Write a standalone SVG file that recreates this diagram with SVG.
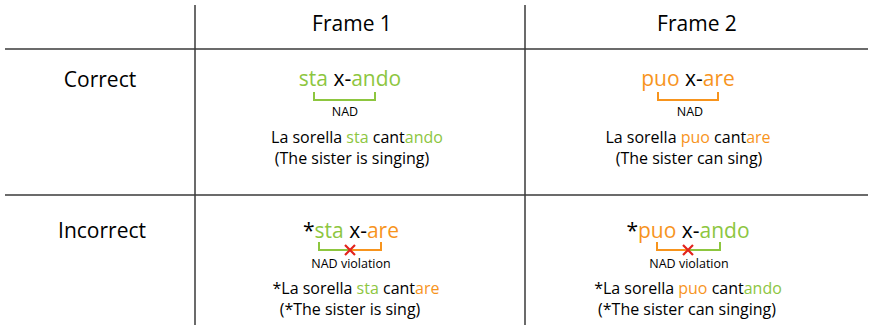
<svg xmlns="http://www.w3.org/2000/svg" width="870" height="325" viewBox="0 0 870 325">
<style>
text{font-family:"Open Sans","Noto Sans","Liberation Sans",sans-serif;fill:#000;text-anchor:middle}
.h{font-size:21px}
.m{font-size:21px}
.s{font-size:16px}
.n{font-size:12.5px}
.g{fill:#8DC63F}
.o{fill:#F7941D}
.rule{stroke:#3a3a3a;stroke-width:1.5;fill:none}
.bg{stroke:#8DC63F;stroke-width:2;fill:none}
.bo{stroke:#F7941D;stroke-width:2;fill:none}
.x{stroke:#E3231C;stroke-width:2.2;fill:none}
</style>
<rect width="870" height="325" fill="#fff"/>
<g id="connectors">
<line class="rule" x1="5" y1="49" x2="868" y2="49"/>
<line class="rule" x1="5" y1="195" x2="868" y2="195"/>
<line class="rule" x1="195" y1="5" x2="195" y2="325"/>
<line class="rule" x1="525" y1="5" x2="525" y2="325"/>
</g>
<g id="header-frame1"><text class="h" x="352" y="31">Frame 1</text></g>
<g id="header-frame2"><text class="h" x="697" y="31">Frame 2</text></g>
<g id="row-correct"><text class="h" x="100" y="87">Correct</text></g>
<g id="row-incorrect"><text class="h" x="102" y="238">Incorrect</text></g>
<g id="cell-f1-correct">
<text class="m" x="350" y="86"><tspan class="g">sta</tspan> x-<tspan class="g">ando</tspan></text>
<path class="bg" d="M314,92 V100 H375 V92"/>
<text class="n" x="345" y="116">NAD</text>
<text class="s" x="357" y="143">La sorella <tspan class="g">sta</tspan> cant<tspan class="g">ando</tspan></text>
<text class="s" x="352" y="164">(The sister is singing)</text>
</g>
<g id="cell-f2-correct">
<text class="m" x="688" y="86"><tspan class="o">puo</tspan> x-<tspan class="o">are</tspan></text>
<path class="bo" d="M658,92 V100 H718 V92"/>
<text class="n" x="690" y="116">NAD</text>
<text class="s" x="688" y="143">La sorella <tspan class="o">puo</tspan> cant<tspan class="o">are</tspan></text>
<text class="s" x="689" y="164">(The sister can sing)</text>
</g>
<g id="cell-f1-incorrect">
<text class="m" x="351" y="238">*<tspan class="g">sta</tspan> x-<tspan class="o">are</tspan></text>
<path class="bg" d="M319,242 V250 H350"/>
<path class="bo" d="M350,250 H381 V242"/>
<path class="x" d="M345,245 L355,255 M355,245 L345,255"/>
<text class="n" x="351" y="268">NAD violation</text>
<text class="s" x="356" y="294">*La sorella <tspan class="g">sta</tspan> cant<tspan class="o">are</tspan></text>
<text class="s" x="350" y="315">(*The sister is sing)</text>
</g>
<g id="cell-f2-incorrect">
<text class="m" x="688" y="238">*<tspan class="o">puo</tspan> x-<tspan class="g">ando</tspan></text>
<path class="bo" d="M657,242 V250 H688"/>
<path class="bg" d="M688,250 H720 V242"/>
<path class="x" d="M683,245 L693,255 M693,245 L683,255"/>
<text class="n" x="689" y="268">NAD violation</text>
<text class="s" x="688" y="294">*La sorella <tspan class="o">puo</tspan> cant<tspan class="g">ando</tspan></text>
<text class="s" x="687" y="315">(*The sister can singing)</text>
</g>
</svg>
